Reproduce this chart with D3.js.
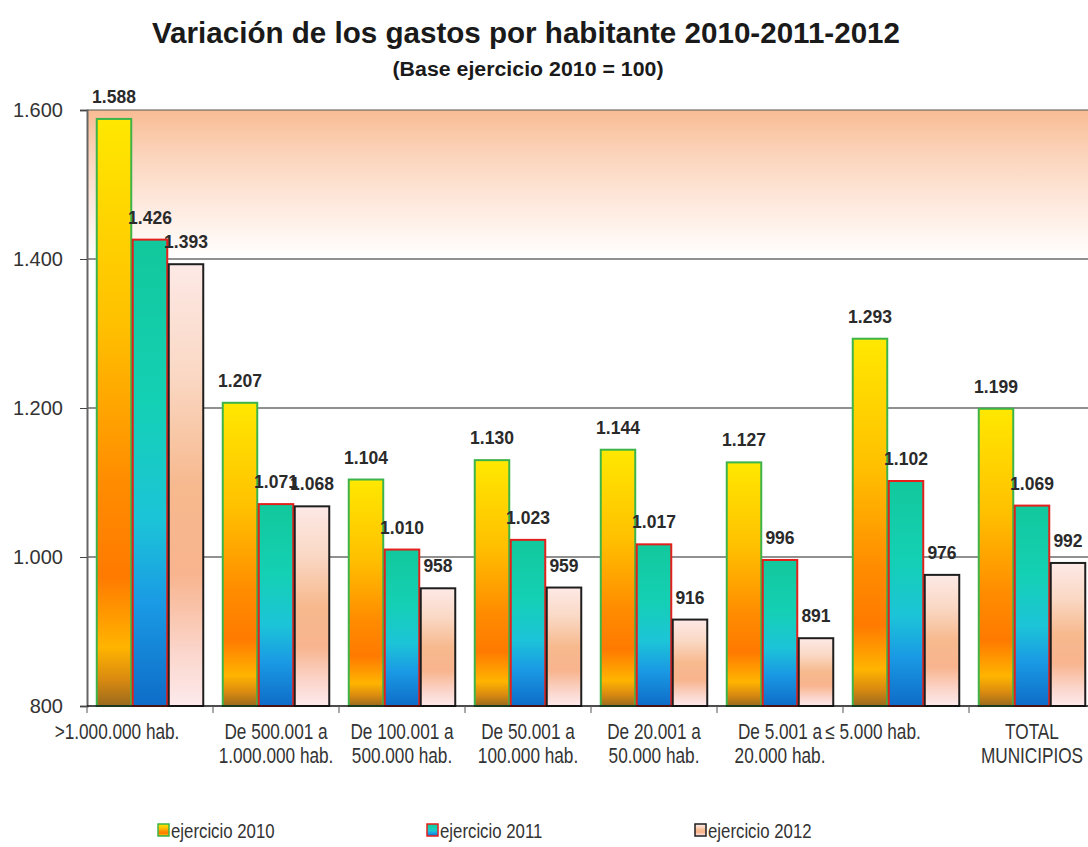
<!DOCTYPE html>
<html lang="es">
<head>
<meta charset="utf-8">
<script src="https://cdn.jsdelivr.net/npm/d3@7/dist/d3.min.js"></script>
<style>
  html, body { margin: 0; padding: 0; background: #fff; }
  svg { display: block; }
</style>
</head>
<body>
<svg id="chart" width="1088" height="847"></svg>
<script>
// Tramos de población
const categories = [
  ">1.000.000 hab.",
  "De 500.001 a\n1.000.000 hab.",
  "De 100.001 a\n500.000 hab.",
  "De 50.001 a\n100.000 hab.",
  "De 20.001 a\n50.000 hab.",
  "De 5.001 a\n20.000 hab.",
  "≤ 5.000 hab.",
  "TOTAL\nMUNICIPIOS"
];
const seriesNames = ["ejercicio 2010", "ejercicio 2011", "ejercicio 2012"];
const gasto2010 = [1588, 1207, 1104, 1130, 1144, 1127, 1293, 1199];
const gasto2011 = [1426, 1071, 1010, 1023, 1017, 996, 1102, 1069];
const gasto2012 = [1393, 1068, 958, 959, 916, 891, 976, 992];
const yTicks = [800, 1000, 1200, 1400, 1600];
const titleText = "Variación de los gastos por habitante 2010-2011-2012";
const subtitleText = "(Base ejercicio 2010 = 100)";

const seriesValues = [gasto2010, gasto2011, gasto2012];

const locale = d3.formatLocale({ decimal: ",", thousands: ".", grouping: [3], currency: ["", " €"] });
const fmt = locale.format(",d");

const svg = d3.select("#chart");
const sans = "'Liberation Sans', Arial, sans-serif";
const narrowScale = 0.8; // condensed look for the Arial-style face

const plotLeft = 87, plotRight = 1095, plotTop = 110, plotBottom = 706;

const x = d3.scaleBand()
  .domain(categories)
  .range([plotLeft, plotRight])
  .paddingInner(18 / 126)
  .paddingOuter(9 / 126);
const xs = d3.scaleBand().domain(seriesNames).range([0, x.bandwidth()]);
const y = d3.scaleLinear().domain([800, 1600]).range([plotBottom, plotTop]);

// Gradients
const defs = svg.append("defs");
function vGrad(id, stops) {
  const g = defs.append("linearGradient").attr("id", id)
    .attr("x1", 0).attr("y1", 0).attr("x2", 0).attr("y2", 1);
  stops.forEach(([o, c]) => g.append("stop").attr("offset", o).attr("stop-color", c));
}
vGrad("g2010", [[0, "#ffe800"], [0.35, "#ffc000"], [0.62, "#ff8c00"], [0.78, "#ff7a00"], [0.9, "#ffb400"], [0.955, "#d98a10"], [1, "#9a6a1e"]]);
vGrad("g2011", [[0, "#12c89c"], [0.35, "#14d0b4"], [0.6, "#1cc4d8"], [0.78, "#1a9ae4"], [1, "#0e6cc8"]]);
vGrad("g2012", [[0, "#fde9e6"], [0.25, "#fad8c4"], [0.5, "#f7b98e"], [0.7, "#f8b48e"], [0.88, "#fbd6cc"], [1, "#fdeaec"]]);
vGrad("gBand", [[0, "#f8bc93"], [0.3, "#fbd4bb"], [0.65, "#feeadf"], [1, "#ffffff"]]);

const fills = ["url(#g2010)", "url(#g2011)", "url(#g2012)"];
const strokes = ["#3cb44a", "#e3201b", "#1e1e1e"];

// Upper shaded band 1.400 - 1.600
svg.append("rect")
  .attr("x", plotLeft).attr("y", y(1600))
  .attr("width", plotRight - plotLeft).attr("height", y(1400) - y(1600))
  .attr("fill", "url(#gBand)");

// Grid lines
svg.append("g").selectAll("line")
  .data(yTicks.filter(d => d > 800))
  .join("line")
  .attr("x1", plotLeft).attr("x2", plotRight)
  .attr("y1", d => y(d)).attr("y2", d => y(d))
  .attr("stroke", d => d === 1600 ? "#555" : "#222")
  .attr("stroke-width", 1.2);

// Bars
const groups = svg.append("g").selectAll("g")
  .data(categories)
  .join("g")
  .attr("transform", d => `translate(${x(d)},0)`);

groups.selectAll("rect")
  .data((c, i) => seriesNames.map((s, k) => ({ s, k, v: seriesValues[k][i] })))
  .join("rect")
  .attr("x", d => xs(d.s) + 0.75)
  .attr("y", d => y(d.v))
  .attr("width", xs.bandwidth() - 1.5)
  .attr("height", d => y(800) - y(d.v))
  .attr("fill", d => fills[d.k])
  .attr("stroke", d => strokes[d.k])
  .attr("stroke-width", 2);

// Value labels
groups.selectAll("text")
  .data((c, i) => seriesNames.map((s, k) => ({ s, k, v: seriesValues[k][i] })))
  .join("text")
  .attr("x", d => xs(d.s) + xs.bandwidth() / 2)
  .attr("y", d => y(d.v) - 16)
  .attr("text-anchor", "middle")
  .attr("font-family", sans)
  .attr("font-weight", "bold")
  .attr("font-size", 17.5)
  .attr("fill", "#2a2a2a")
  .text(d => fmt(d.v));

// Left axis
const yAxis = svg.append("g")
  .attr("transform", `translate(${plotLeft},0)`)
  .call(d3.axisLeft(y).tickValues(yTicks).tickFormat(fmt).tickSize(7).tickPadding(17));
yAxis.select(".domain").attr("stroke", "#666").attr("stroke-width", 2);
yAxis.selectAll(".tick line").attr("stroke", "#444");
yAxis.selectAll(".tick text")
  .attr("font-family", sans)
  .attr("font-size", 20)
  .attr("fill", "#333");

// Bottom axis line and category separators
svg.append("line")
  .attr("x1", plotLeft).attr("x2", plotRight)
  .attr("y1", plotBottom).attr("y2", plotBottom)
  .attr("stroke", "#111").attr("stroke-width", 1.5);
const sepOffset = (x.step() - x.bandwidth()) / 2;
svg.append("g").selectAll("line")
  .data(categories)
  .join("line")
  .attr("x1", d => x(d) - sepOffset).attr("x2", d => x(d) - sepOffset)
  .attr("y1", plotBottom).attr("y2", plotBottom + 7)
  .attr("stroke", "#555");

// Category labels
const catLabels = svg.append("g").selectAll("text")
  .data(categories)
  .join("text")
  .attr("text-anchor", "middle")
  .attr("font-family", sans)
  .attr("font-size", 21.5)
  .attr("fill", "#333")
  .attr("transform", d => {
    const lines = d.split("\n");
    const shift = lines.length === 1 ? -33 : 0;
    return `translate(${x(d) + x.bandwidth() / 2 + shift},739) scale(${narrowScale},1)`;
  });
catLabels.selectAll("tspan")
  .data(d => d.split("\n"))
  .join("tspan")
  .attr("x", 0)
  .attr("dy", (d, i) => i === 0 ? 0 : 24)
  .text(d => d);

// Title
svg.append("text")
  .attr("x", 526).attr("y", 43)
  .attr("text-anchor", "middle")
  .attr("font-family", sans)
  .attr("font-weight", "bold")
  .attr("font-size", 30)
  .attr("fill", "#1a1a1a")
  .attr("textLength", 748)
  .attr("lengthAdjust", "spacingAndGlyphs")
  .text(titleText);
svg.append("text")
  .attr("x", 528).attr("y", 76)
  .attr("text-anchor", "middle")
  .attr("font-family", sans)
  .attr("font-weight", "bold")
  .attr("font-size", 20)
  .attr("fill", "#1a1a1a")
  .attr("textLength", 271)
  .attr("lengthAdjust", "spacingAndGlyphs")
  .text(subtitleText);

// Legend
const legendX = [158, 427, 695];
const legend = svg.append("g").selectAll("g")
  .data(seriesNames)
  .join("g")
  .attr("transform", (d, i) => `translate(${legendX[i]},824)`);
legend.append("rect")
  .attr("width", 11).attr("height", 12)
  .attr("fill", (d, i) => fills[i])
  .attr("stroke", (d, i) => strokes[i])
  .attr("stroke-width", 1.5);
legend.append("text")
  .attr("transform", `translate(13,14) scale(${narrowScale},1)`)
  .attr("font-family", sans)
  .attr("font-size", 21)
  .attr("fill", "#333")
  .text(d => d);
</script>
</body>
</html>
